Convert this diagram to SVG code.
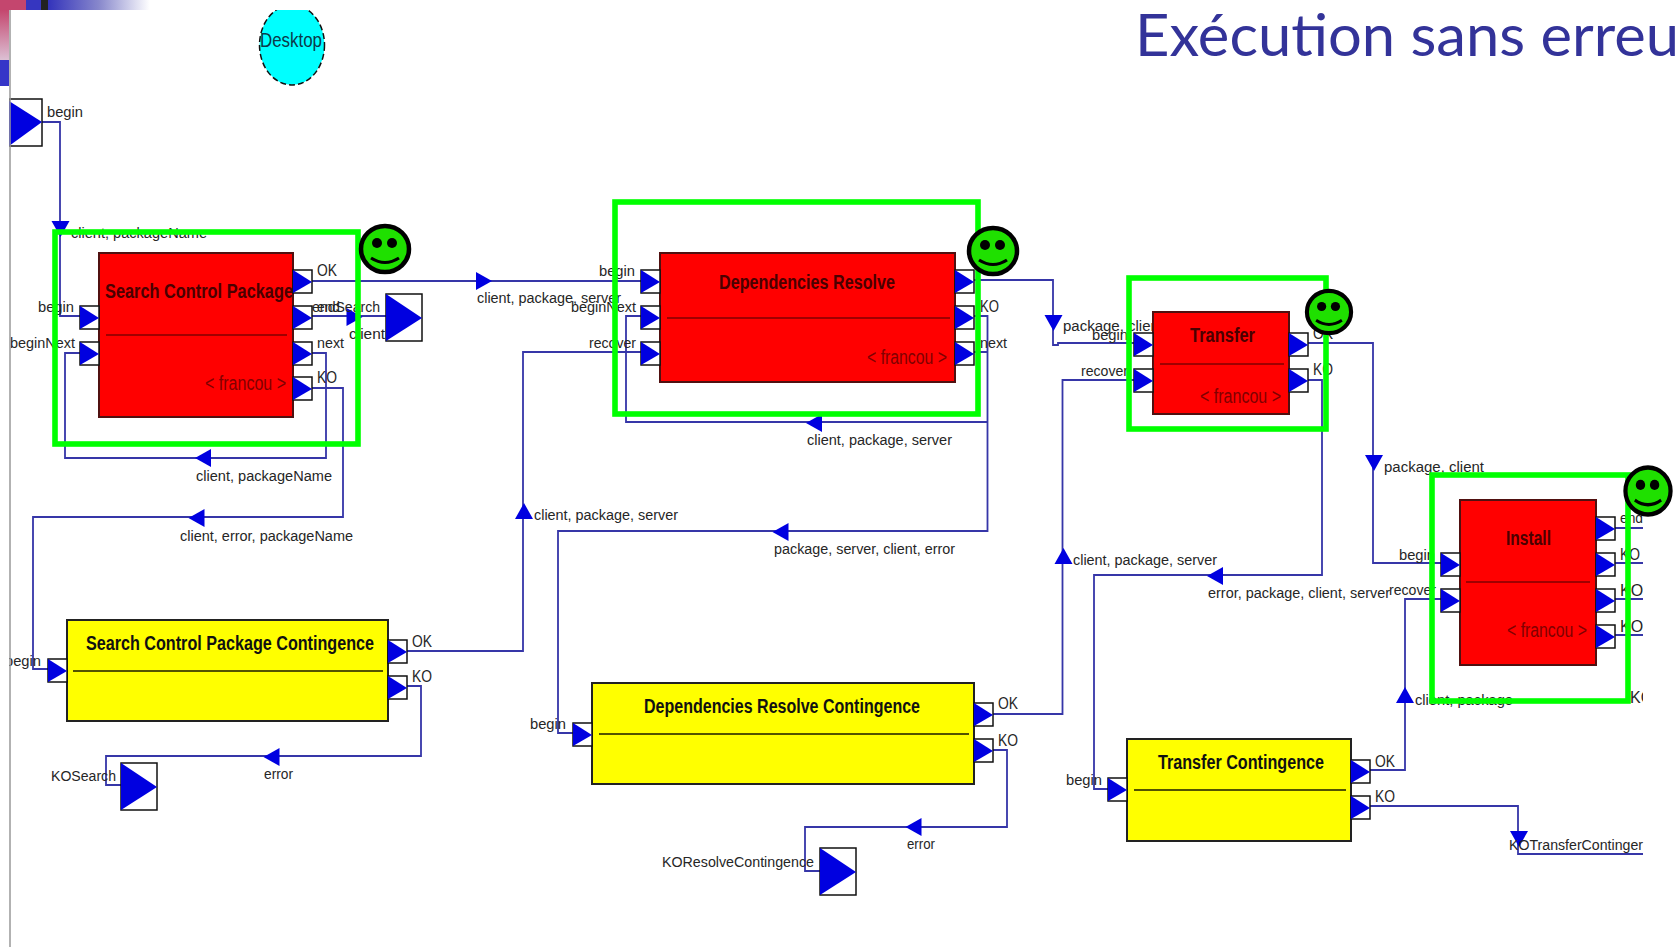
<svg xmlns="http://www.w3.org/2000/svg" width="1679" height="947" viewBox="0 0 1679 947">
<style>
text{font-family:"Liberation Sans",Arial,sans-serif}
.l{font-size:14px;fill:#262626}
.k{font-size:16px;fill:#262626}
.t{font-family:"Liberation Sans Narrow","Liberation Sans",Arial,sans-serif;font-size:20px;font-weight:bold}
.r .t{fill:#4a0000}
.y .t{fill:#111}
.r .box{fill:#f00;stroke:#501010;stroke-width:2}
.y .box{fill:#ff0;stroke:#222;stroke-width:2}
.r .sep{stroke:#800000;stroke-width:1.6}
.y .sep{stroke:#1a1a00;stroke-width:1.6}
.f{font-family:"Liberation Sans Narrow","Liberation Sans",Arial,sans-serif;font-size:20px;fill:#800000}
.c{fill:none;stroke:#3636a8;stroke-width:1.8}
.a{fill:#0000e0}
.hl{fill:none;stroke:#00ff00;stroke-width:5.6}
</style>
<defs>
<g id="port"><rect x="0" y="0" width="19" height="23" fill="#fff" stroke="#111" stroke-width="1.5"/><polygon points="0,0 19,12 0,23" fill="#0000e0"/></g>
<g id="term"><rect x="0" y="0" width="36" height="47" fill="#fff" stroke="#111" stroke-width="1.5"/><polygon points="0,0 36,24 0,47" fill="#0000e0"/></g>
<polygon id="arr" class="a" points="-8,-9 8,0 -8,9"/>
<g id="smile"><ellipse cx="0" cy="0" rx="24" ry="23" fill="#1fe000" stroke="#000" stroke-width="4.500"/><ellipse cx="-8" cy="-6" rx="5" ry="5"/><ellipse cx="7" cy="-6" rx="5" ry="5"/><path d="M-14,9 Q0,18 14,9" fill="none" stroke="#000" stroke-width="3.200"/></g>
<linearGradient id="band" x1="0" x2="1" y1="0" y2="0"><stop offset="0" stop-color="#3333bb"/><stop offset="0.500" stop-color="#8888cc"/><stop offset="1" stop-color="#fff"/></linearGradient>
<linearGradient id="pink" x1="0" x2="0" y1="0" y2="1"><stop offset="0" stop-color="#c4466e"/><stop offset="1" stop-color="#dcc0d4"/></linearGradient>
</defs>
<rect width="1679" height="947" fill="#fff"/>

<g id="desktop">
<ellipse cx="292" cy="45" rx="32.500" ry="40" fill="#0ff" stroke="#111" stroke-width="1.500" stroke-dasharray="6 3"/>
<text x="260" y="47" font-size="21" fill="#0c3a4a" textLength="62" lengthAdjust="spacingAndGlyphs">Desktop</text>
</g>

<g id="connectors">
<path class="c" d="M42,122H60V316H80"/>
<path class="c" d="M312,281H641"/>
<path class="c" d="M312,316H386"/>
<path class="c" d="M312,353H326V458H65V353H80"/>
<path class="c" d="M312,388H343V517H33V669H48"/>
<path class="c" d="M407,651H523V352H641"/>
<path class="c" d="M407,686H421V756H106V785H121"/>
<path class="c" d="M974,280H1053V345H1058V343H1134"/>
<path class="c" d="M974,316H987.500V531H558V733H573"/>
<path class="c" d="M974,352H987.500M987.500,422H626V316H641"/>
<path class="c" d="M993,714H1062.500V380H1134"/>
<path class="c" d="M993,750H1007V827H805V871H820"/>
<path class="c" d="M1308,343H1373V563H1441"/>
<path class="c" d="M1308,380H1322V575H1094V789H1108"/>
<path class="c" d="M1370,770H1405V599H1441"/>
<path class="c" d="M1370,806H1518V854H1643"/>
<path class="c" d="M1615,528H1643M1615,563H1643M1615,599H1643M1615,635H1643"/>
<use href="#arr" transform="translate(60.500,229) rotate(90)"/>
<use href="#arr" transform="translate(484,281)"/>
<use href="#arr" transform="translate(354.500,317)"/>
<use href="#arr" transform="translate(203,458) rotate(180)"/>
<use href="#arr" transform="translate(196.500,518) rotate(180)"/>
<use href="#arr" transform="translate(524,511) rotate(-90)"/>
<use href="#arr" transform="translate(271.500,757) rotate(180)"/>
<use href="#arr" transform="translate(1053.500,323) rotate(90)"/>
<use href="#arr" transform="translate(814,423) rotate(180)"/>
<use href="#arr" transform="translate(780.500,532) rotate(180)"/>
<use href="#arr" transform="translate(1063.500,556) rotate(-90)"/>
<use href="#arr" transform="translate(913.500,827) rotate(180)"/>
<use href="#arr" transform="translate(1374,463) rotate(90)"/>
<use href="#arr" transform="translate(1215,576) rotate(180)"/>
<use href="#arr" transform="translate(1405,695) rotate(-90)"/>
<use href="#arr" transform="translate(1519,839) rotate(90)"/>
<text class="l" x="71" y="238" textLength="136" lengthAdjust="spacingAndGlyphs">client, packageName</text>
<text class="l" x="477" y="303" textLength="144" lengthAdjust="spacingAndGlyphs">client, package, server</text>
<text class="l" x="196" y="481" textLength="136" lengthAdjust="spacingAndGlyphs">client, packageName</text>
<text class="l" x="180" y="541" textLength="173" lengthAdjust="spacingAndGlyphs">client, error, packageName</text>
<text class="l" x="534" y="520" textLength="144" lengthAdjust="spacingAndGlyphs">client, package, server</text>
<text class="l" x="264" y="779" textLength="29" lengthAdjust="spacingAndGlyphs">error</text>
<text class="l" x="807" y="445" textLength="145" lengthAdjust="spacingAndGlyphs">client, package, server</text>
<text class="l" x="774" y="554" textLength="181" lengthAdjust="spacingAndGlyphs">package, server, client, error</text>
<text class="l" x="1063" y="331" textLength="100" lengthAdjust="spacingAndGlyphs">package, client</text>
<text class="l" x="1073" y="565" textLength="144" lengthAdjust="spacingAndGlyphs">client, package, server</text>
<text class="l" x="907" y="849" textLength="28" lengthAdjust="spacingAndGlyphs">error</text>
<text class="l" x="1384" y="472" textLength="100" lengthAdjust="spacingAndGlyphs">package, client</text>
<text class="l" x="1208" y="598" textLength="182" lengthAdjust="spacingAndGlyphs">error, package, client, server</text>
<text class="l" x="1415" y="705" textLength="98" lengthAdjust="spacingAndGlyphs">client, package</text>
</g>

<g id="n-begin"><rect x="9" y="99" width="33" height="47" fill="#fff" stroke="#111" stroke-width="1.500"/><polygon points="9,101 42,122 9,146" fill="#0000e0"/><text class="l" x="47" y="117" textLength="36" lengthAdjust="spacingAndGlyphs">begin</text></g>

<g id="n-endSearch"><use href="#term" transform="translate(386,294)"/>
<text class="l" x="312" y="312" textLength="68" lengthAdjust="spacingAndGlyphs">endSearch</text>
<text class="l" x="349" y="339" textLength="36" lengthAdjust="spacingAndGlyphs">client</text></g>

<g id="n-search" class="r">
<rect class="box" x="99" y="253" width="194" height="164"/>
<line class="sep" x1="106" y1="335" x2="287" y2="335"/>
<text class="t" x="105" y="298" textLength="188" lengthAdjust="spacingAndGlyphs">Search Control Package</text>
<text class="f" x="205" y="390" textLength="81" lengthAdjust="spacingAndGlyphs">&lt; francou &gt;</text>
<use href="#port" transform="translate(80,306)"/><use href="#port" transform="translate(80,342)"/>
<use href="#port" transform="translate(293,270)"/><use href="#port" transform="translate(293,306)"/><use href="#port" transform="translate(293,342)"/><use href="#port" transform="translate(293,377)"/>
<text class="l" x="38" y="312" textLength="36" lengthAdjust="spacingAndGlyphs">begin</text>
<text class="l" x="10" y="348" textLength="65" lengthAdjust="spacingAndGlyphs">beginNext</text>
<text class="k" x="317" y="276" textLength="20" lengthAdjust="spacingAndGlyphs">OK</text>
<text class="l" x="317" y="312" textLength="23" lengthAdjust="spacingAndGlyphs">end</text>
<text class="l" x="317" y="348" textLength="27" lengthAdjust="spacingAndGlyphs">next</text>
<text class="k" x="317" y="383" textLength="20" lengthAdjust="spacingAndGlyphs">KO</text>
</g>

<g id="n-search-cont" class="y">
<rect class="box" x="67" y="620" width="321" height="101"/>
<line class="sep" x1="73" y1="671" x2="383" y2="671"/>
<text class="t" x="86" y="650" textLength="288" lengthAdjust="spacingAndGlyphs">Search Control Package Contingence</text>
<use href="#port" transform="translate(48,659)"/>
<use href="#port" transform="translate(388,640)"/><use href="#port" transform="translate(388,676)"/>
<text class="l" x="5" y="666" textLength="36" lengthAdjust="spacingAndGlyphs">begin</text>
<text class="k" x="412" y="647" textLength="20" lengthAdjust="spacingAndGlyphs">OK</text>
<text class="k" x="412" y="682" textLength="20" lengthAdjust="spacingAndGlyphs">KO</text>
</g>

<g id="n-koSearch"><use href="#term" transform="translate(121,763)"/><text class="l" x="51" y="781" textLength="65" lengthAdjust="spacingAndGlyphs">KOSearch</text></g>

<g id="n-deps" class="r">
<rect class="box" x="660" y="253" width="295" height="129"/>
<line class="sep" x1="667" y1="318" x2="950" y2="318"/>
<text class="t" x="719" y="289" textLength="176" lengthAdjust="spacingAndGlyphs">Dependencies Resolve</text>
<text class="f" x="867" y="364" textLength="80" lengthAdjust="spacingAndGlyphs">&lt; francou &gt;</text>
<use href="#port" transform="translate(641,270)"/><use href="#port" transform="translate(641,306)"/><use href="#port" transform="translate(641,342)"/>
<use href="#port" transform="translate(955,270)"/><use href="#port" transform="translate(955,306)"/><use href="#port" transform="translate(955,342)"/>
<text class="l" x="599" y="276" textLength="36" lengthAdjust="spacingAndGlyphs">begin</text>
<text class="l" x="571" y="312" textLength="65" lengthAdjust="spacingAndGlyphs">beginNext</text>
<text class="l" x="589" y="348" textLength="47" lengthAdjust="spacingAndGlyphs">recover</text>
<text class="k" x="980" y="312" textLength="19" lengthAdjust="spacingAndGlyphs">KO</text>
<text class="l" x="980" y="348" textLength="27" lengthAdjust="spacingAndGlyphs">next</text>
</g>

<g id="n-deps-cont" class="y">
<rect class="box" x="592" y="683" width="382" height="101"/>
<line class="sep" x1="599" y1="734" x2="969" y2="734"/>
<text class="t" x="644" y="713" textLength="276" lengthAdjust="spacingAndGlyphs">Dependencies Resolve Contingence</text>
<use href="#port" transform="translate(573,723)"/>
<use href="#port" transform="translate(974,703)"/><use href="#port" transform="translate(974,739)"/>
<text class="l" x="530" y="729" textLength="36" lengthAdjust="spacingAndGlyphs">begin</text>
<text class="k" x="998" y="709" textLength="20" lengthAdjust="spacingAndGlyphs">OK</text>
<text class="k" x="998" y="746" textLength="20" lengthAdjust="spacingAndGlyphs">KO</text>
</g>

<g id="n-koResolve"><use href="#term" transform="translate(820,848)"/><text class="l" x="662" y="867" textLength="152" lengthAdjust="spacingAndGlyphs">KOResolveContingence</text></g>

<g id="n-transfer" class="r">
<rect class="box" x="1153" y="312" width="136" height="102"/>
<line class="sep" x1="1160" y1="364" x2="1284" y2="364"/>
<text class="t" x="1190" y="342" textLength="65" lengthAdjust="spacingAndGlyphs">Transfer</text>
<text class="f" x="1200" y="403" textLength="81" lengthAdjust="spacingAndGlyphs">&lt; francou &gt;</text>
<use href="#port" transform="translate(1134,333)"/><use href="#port" transform="translate(1134,369)"/>
<use href="#port" transform="translate(1289,333)"/><use href="#port" transform="translate(1289,369)"/>
<text class="l" x="1092" y="340" textLength="36" lengthAdjust="spacingAndGlyphs">begin</text>
<text class="l" x="1081" y="376" textLength="47" lengthAdjust="spacingAndGlyphs">recover</text>
<text class="k" x="1313" y="339" textLength="20" lengthAdjust="spacingAndGlyphs">OK</text>
<text class="k" x="1313" y="375" textLength="20" lengthAdjust="spacingAndGlyphs">KO</text>
</g>

<g id="n-transfer-cont" class="y">
<rect class="box" x="1127" y="739" width="224" height="102"/>
<line class="sep" x1="1134" y1="790" x2="1346" y2="790"/>
<text class="t" x="1158" y="769" textLength="166" lengthAdjust="spacingAndGlyphs">Transfer Contingence</text>
<use href="#port" transform="translate(1108,778)"/>
<use href="#port" transform="translate(1351,760)"/><use href="#port" transform="translate(1351,796)"/>
<text class="l" x="1066" y="785" textLength="36" lengthAdjust="spacingAndGlyphs">begin</text>
<text class="k" x="1375" y="767" textLength="20" lengthAdjust="spacingAndGlyphs">OK</text>
<text class="k" x="1375" y="802" textLength="20" lengthAdjust="spacingAndGlyphs">KO</text>
</g>

<g id="n-koTransfer"><text class="l" x="1509" y="850" textLength="134" lengthAdjust="spacingAndGlyphs">KOTransferContinger</text></g>

<g id="n-install" class="r">
<rect class="box" x="1460" y="500" width="136" height="165"/>
<line class="sep" x1="1466" y1="582" x2="1590" y2="582"/>
<text class="t" x="1506" y="545" textLength="45" lengthAdjust="spacingAndGlyphs">Install</text>
<text class="f" x="1507" y="637" textLength="80" lengthAdjust="spacingAndGlyphs">&lt; francou &gt;</text>
<use href="#port" transform="translate(1441,553)"/><use href="#port" transform="translate(1441,589)"/>
<use href="#port" transform="translate(1596,517)"/><use href="#port" transform="translate(1596,553)"/><use href="#port" transform="translate(1596,589)"/><use href="#port" transform="translate(1596,625)"/>
<text class="l" x="1399" y="560" textLength="36" lengthAdjust="spacingAndGlyphs">begin</text>
<text class="l" x="1389" y="595" textLength="47" lengthAdjust="spacingAndGlyphs">recover</text>
<text class="l" x="1620" y="523" textLength="23" lengthAdjust="spacingAndGlyphs">end</text>
<text class="k" x="1620" y="560" textLength="20" lengthAdjust="spacingAndGlyphs">KO</text>
<text class="k" x="1620" y="596">KOT</text>
<text class="k" x="1620" y="632">KOC</text>
<text class="k" x="1630" y="703">KO</text>
</g>

<rect x="1643" y="500" width="36" height="220" fill="#fff"/>
<rect x="0" y="86" width="9" height="861" fill="#fff"/>

<g id="highlights">
<rect class="hl" x="55" y="232" width="303" height="212"/>
<rect class="hl" x="615" y="202" width="363" height="212"/>
<rect class="hl" x="1129" y="278" width="197" height="151"/>
<rect class="hl" x="1432" y="475" width="196" height="226"/>
<use href="#smile" transform="translate(385,249)"/>
<use href="#smile" transform="translate(993,251)"/>
<use href="#smile" transform="translate(1329,312) scale(0.92)"/>
<use href="#smile" transform="translate(1648,491) scale(0.94,1.02)"/>
</g>

<g id="slide">
<rect x="0" y="0" width="1100" height="10" fill="#fff"/>
<rect x="0" y="0" width="26" height="10" fill="#c4466e"/>
<rect x="26" y="0" width="15" height="10" fill="#3636c0"/>
<rect x="41" y="0" width="7" height="10" fill="#222"/>
<rect x="48" y="0" width="102" height="10" fill="url(#band)"/>
<rect x="0" y="10" width="9" height="50" fill="url(#pink)"/>
<rect x="0" y="60" width="9" height="26" fill="#3636c8"/>
<line x1="10" y1="10" x2="10" y2="947" stroke="#999" stroke-width="1.500"/>
<text x="1135" y="56" font-size="58" fill="#333399" textLength="544" lengthAdjust="spacingAndGlyphs" style="font-family:Lato,'Open Sans',sans-serif">Exécution sans erreu</text>
</g>
</svg>
